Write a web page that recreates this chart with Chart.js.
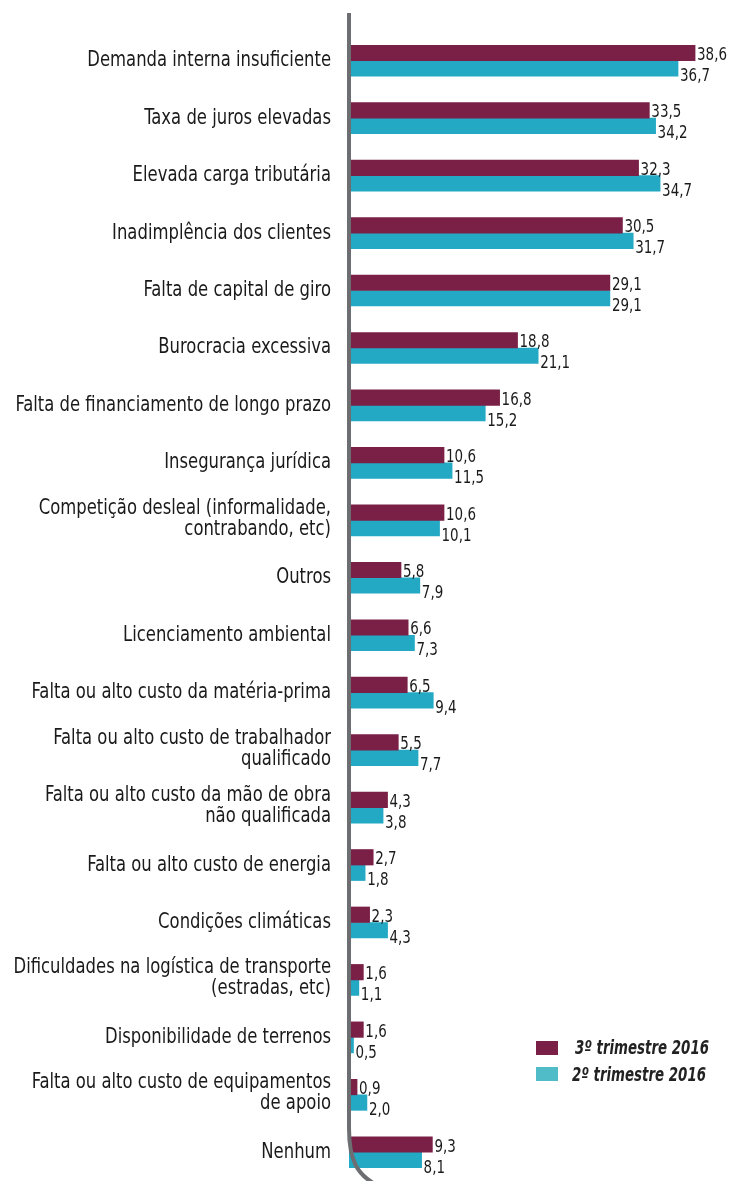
<!DOCTYPE html>
<html>
<head>
<meta charset="utf-8">
<script src="https://cdn.jsdelivr.net/npm/chart.js@4"></script>
<style>
html,body{margin:0;padding:0;background:#fff;}
#wrap{position:relative;width:739px;height:1181px;}
</style>
</head>
<body>
<div id="wrap"><canvas id="c" width="739" height="1181"></canvas></div>
<script>
const categories = [
  "Demanda interna insuficiente",
  "Taxa de juros elevadas",
  "Elevada carga tributária",
  "Inadimplência dos clientes",
  "Falta de capital de giro",
  "Burocracia excessiva",
  "Falta de financiamento de longo prazo",
  "Insegurança jurídica",
  ["Competição desleal (informalidade,", "contrabando, etc)"],
  "Outros",
  "Licenciamento ambiental",
  "Falta ou alto custo da matéria-prima",
  ["Falta ou alto custo de trabalhador", "qualificado"],
  ["Falta ou alto custo da mão de obra", "não qualificada"],
  "Falta ou alto custo de energia",
  "Condições climáticas",
  ["Dificuldades na logística de transporte", "(estradas, etc)"],
  "Disponibilidade de terrenos",
  ["Falta ou alto custo de equipamentos", "de apoio"],
  "Nenhum"
];
const q3_2016 = [38.6,33.5,32.3,30.5,29.1,18.8,16.8,10.6,10.6,5.8,6.6,6.5,5.5,4.3,2.7,2.3,1.6,1.6,0.9,9.3];
const q2_2016 = [36.7,34.2,34.7,31.7,29.1,21.1,15.2,11.5,10.1,7.9,7.3,9.4,7.7,3.8,1.8,4.3,1.1,0.5,2.0,8.1];
const seriesNames = ["3º trimestre 2016", "2º trimestre 2016"];

const FONT = '"DejaVu Sans Condensed", "Liberation Sans Narrow", "Liberation Sans", sans-serif';
const MAROON = '#7a2047';
const TEAL = '#23a9c4';
const TEAL_LEGEND = '#4fbcc8';
const AXIS = '#6d6e71';
const TEXT = '#1a1a1a';

const fmt = v => v.toFixed(1).replace('.', ',');

function drawNarrow(ctx, text, x, y, sx, align) {
  ctx.save();
  ctx.translate(x, y);
  ctx.scale(sx, 1);
  ctx.textAlign = align;
  ctx.fillText(text, 0, 0);
  ctx.restore();
}

const categoryLabels = {
  id: 'categoryLabels',
  afterDraw(chart) {
    const ctx = chart.ctx;
    const ys = chart.scales.y;
    const xr = chart.chartArea.left - 18;
    ctx.save();
    ctx.font = '21px ' + FONT;
    ctx.fillStyle = TEXT;
    ctx.textBaseline = 'alphabetic';
    chart.data.labels.forEach((lab, i) => {
      const y = ys.getPixelForValue(i);
      if (Array.isArray(lab)) {
        drawNarrow(ctx, lab[0], xr, y - 6.5, 0.87, 'right');
        drawNarrow(ctx, lab[1], xr, y + 14.5, 0.87, 'right');
      } else {
        drawNarrow(ctx, lab, xr, y + 5.5, 0.87, 'right');
      }
    });
    ctx.restore();
  }
};

const valueLabels = {
  id: 'valueLabels',
  afterDatasetsDraw(chart) {
    const ctx = chart.ctx;
    ctx.save();
    ctx.font = '18px ' + FONT;
    ctx.fillStyle = TEXT;
    ctx.textBaseline = 'alphabetic';
    chart.data.datasets.forEach((ds, di) => {
      const meta = chart.getDatasetMeta(di);
      meta.data.forEach((bar, i) => {
        const dy = di === 0 ? 7 : 12.5;
        drawNarrow(ctx, fmt(ds.data[i]), bar.x + 2, bar.y + dy, 0.83, 'left');
      });
    });
    ctx.restore();
  }
};

const axisCurve = {
  id: 'axisCurve',
  afterDatasetsDraw(chart) {
    const ctx = chart.ctx;
    const x0 = chart.scales.x.getPixelForValue(0);
    ctx.save();
    ctx.strokeStyle = AXIS;
    ctx.lineWidth = 4;
    ctx.beginPath();
    ctx.moveTo(x0, 13);
    ctx.lineTo(x0, 1128);
    ctx.bezierCurveTo(x0, 1160, x0 + 8, 1176, x0 + 30, 1186);
    ctx.stroke();
    ctx.restore();
  }
};

const customLegend = {
  id: 'customLegend',
  afterDraw(chart) {
    const ctx = chart.ctx;
    ctx.save();
    const items = [
      {color: MAROON, text: seriesNames[0], y: 1041, tx: 575, base: 1054},
      {color: TEAL_LEGEND, text: seriesNames[1], y: 1067, tx: 572, base: 1081}
    ];
    ctx.font = 'italic bold 19px ' + FONT;
    ctx.textBaseline = 'alphabetic';
    items.forEach(it => {
      ctx.fillStyle = it.color;
      ctx.fillRect(536, it.y, 22, 14);
      ctx.fillStyle = '#222';
      const w = ctx.measureText(it.text).width;
      drawNarrow(ctx, it.text, it.tx, it.base, 134 / w, 'left');
    });
    ctx.restore();
  }
};

new Chart(document.getElementById('c'), {
  type: 'bar',
  data: {
    labels: categories,
    datasets: [
      {label: seriesNames[0], data: q3_2016, backgroundColor: MAROON, barThickness: 15.5},
      {label: seriesNames[1], data: q2_2016, backgroundColor: TEAL, barThickness: 15.5}
    ]
  },
  options: {
    indexAxis: 'y',
    responsive: false,
    animation: false,
    layout: {padding: {top: 32, bottom: 0, left: 349, right: 0}},
    plugins: {legend: {display: false}, tooltip: {enabled: false}},
    scales: {
      x: {min: 0, max: 43.5, display: false, grid: {display: false}},
      y: {display: false, grid: {display: false}}
    }
  },
  plugins: [valueLabels, axisCurve, categoryLabels, customLegend]
});
</script>
</body>
</html>
